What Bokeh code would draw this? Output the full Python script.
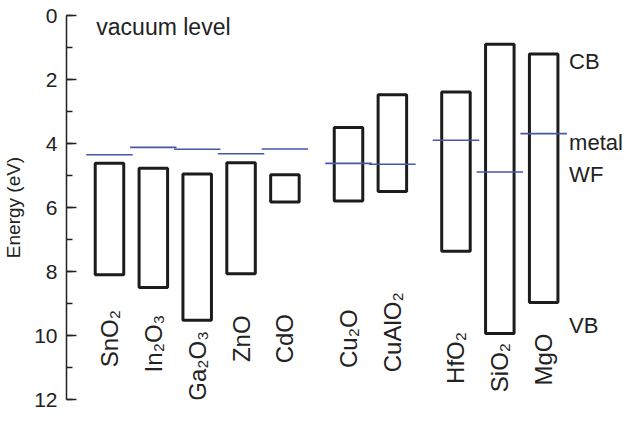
import math
from bokeh.plotting import figure
from bokeh.models import Range1d, SingleIntervalTicker, ColumnDataSource
from bokeh.core.properties import value
from bokeh.embed import file_html
from bokeh.resources import INLINE

# ---- data (energies in eV below vacuum level) ----
materials = ["SnO₂", "In₂O₃", "Ga₂O₃", "ZnO", "CdO", "Cu₂O", "CuAlO₂", "HfO₂", "SiO₂", "MgO"]
group = [0, 0, 0, 0, 0, 1, 1, 2, 2, 2]
cb = [4.62, 4.77, 4.95, 4.60, 4.98, 3.50, 2.48, 2.39, 0.90, 1.20]
vb = [8.10, 8.50, 9.52, 8.07, 5.83, 5.80, 5.50, 7.37, 9.94, 8.97]
wf = [4.35, 4.12, 4.18, 4.32, 4.17, 4.62, 4.65, 3.90, 4.89, 3.69]
y_ticks = [0, 2, 4, 6, 8, 10, 12]

# ---- layout ----
GAP = 0.45
pos = [i + GAP * g for i, g in enumerate(group)]
label_y = [10.1, 10.25, 10.95, 10.1, 10.1, 10.1, 9.9, 10.7, 11.0, 10.75]
BAR_W = 0.65
WF_HALF = 0.53

FONT = "Liberation Sans"
TXT = "#222222"
BLUE = "#4657a6"

p = figure(width=623, height=412,
           x_range=Range1d(-0.98, 11.72), y_range=Range1d(12, 0),
           x_axis_type=None, output_backend="svg", toolbar_location=None,
           min_border_left=64, min_border_right=0, min_border_top=15, min_border_bottom=13)
p.grid.visible = False
p.outline_line_color = None
p.background_fill_color = "white"
p.border_fill_color = "white"

ax = p.yaxis[0]
ax.ticker = SingleIntervalTicker(interval=2, num_minor_ticks=2)
ax.major_tick_in = 10
ax.major_tick_out = 0
ax.minor_tick_in = 6
ax.minor_tick_out = 0
ax.axis_line_width = 1.5
ax.major_tick_line_width = 1.5
ax.minor_tick_line_width = 1.5
ax.axis_line_color = "#222222"
ax.major_tick_line_color = "#222222"
ax.minor_tick_line_color = "#222222"
ax.major_label_text_font = FONT
ax.major_label_text_font_size = "21px"
ax.major_label_text_color = TXT
ax.major_label_standoff = 9
ax.axis_label = "Energy (eV)"
ax.axis_label_text_font = FONT
ax.axis_label_text_font_size = "19px"
ax.axis_label_text_font_style = "normal"
ax.axis_label_text_color = TXT
ax.axis_label_standoff = 7

src = ColumnDataSource(dict(
    x=pos, cb=cb, vb=vb, wf=wf, name=materials, ly=label_y,
    x0=[x - WF_HALF for x in pos], x1=[x + WF_HALF for x in pos],
))

p.vbar(x="x", width=BAR_W, top="cb", bottom="vb", source=src,
       fill_color=None, line_color="#1c1c1c", line_width=3)
p.segment(x0="x0", y0="wf", x1="x1", y1="wf", source=src,
          line_color=BLUE, line_width=1.6)

p.text(x="x", y="ly", text="name", source=src, angle=math.pi / 2,
       text_align="center", text_baseline="middle",
       text_font=value(FONT), text_font_size="24px", text_color=TXT)

# annotations
xa = pos[-1] + 0.58
p.text(x=[-0.3], y=[0.36], text=["vacuum level"], text_align="left",
       text_baseline="alphabetic", text_font=value(FONT),
       text_font_size="23px", text_color=TXT)
p.text(x=[xa, xa, xa, xa], y=[1.44, 3.96, 4.97, 9.70],
       text=["CB", "metal", "WF", "VB"], text_align="left",
       text_baseline="alphabetic", text_font=value(FONT),
       text_font_size="22px", text_color=TXT)

open("out.html", "w").write(file_html(p, INLINE))
